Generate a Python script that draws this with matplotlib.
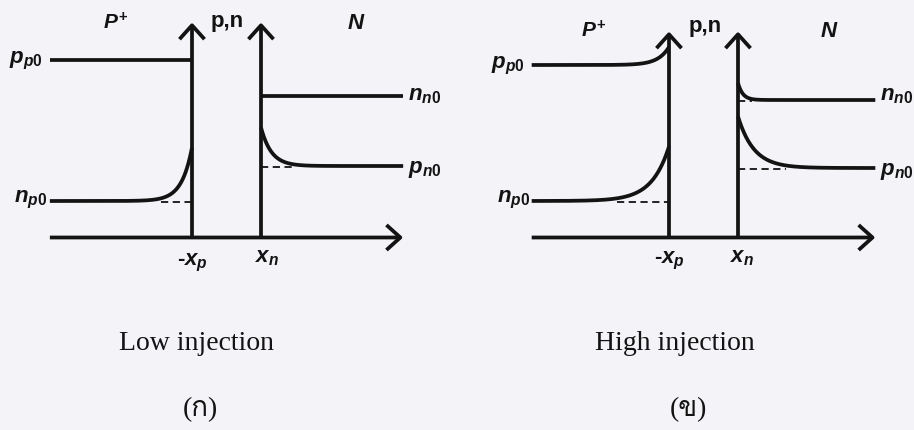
import numpy as np
import matplotlib
matplotlib.use('Agg')
import matplotlib.pyplot as plt
from matplotlib import font_manager
from matplotlib.ft2font import FT2Font
from matplotlib.patches import FancyArrowPatch

# equilibrium densities (arb. units): p_p0, n_p0, n_n0, p_n0
low_levels = [17.75, 3.65, 14.15, 7.15]
high_levels = [17.25, 3.65, 13.75, 6.95]
# densities at the depletion edges: p(-xp), n(-xp), n(xn), p(xn)
low_edges = [17.75, 9.0, 14.15, 11.0]
high_edges = [19.05, 9.1, 15.45, 12.1]
# decay lengths, in units of the depletion width
low_decay = [0.12, 0.15, 0.05, 0.15]
high_decay = [0.16, 0.25, 0.07, 0.23]
# which profiles get the dashed equilibrium reference
low_dashed = [False, True, False, True]
high_dashed = [False, True, True, True]

captions = ['Low injection', 'High injection']
tags = ['(\u0e01)', '(\u0e02)']

INK = '#131313'
BG = '#f3f3f8'
LW = 2.7


def thai_family():
    for f in font_manager.fontManager.ttflist:
        try:
            if 0x0E01 in FT2Font(f.fname).get_charmap():
                return f.name
        except Exception:
            pass
    return 'DejaVu Sans'


plt.rcParams['mathtext.fontset'] = 'custom'
plt.rcParams['mathtext.it'] = 'Liberation Sans:bold:italic'
plt.rcParams['mathtext.rm'] = 'Liberation Sans:bold'
plt.rcParams['mathtext.bf'] = 'Liberation Sans:bold'
serif = ['Liberation Serif', thai_family(), 'DejaVu Sans']


def arrow(ax, a, b):
    ax.add_patch(FancyArrowPatch(a, b, arrowstyle='->,head_length=0.5,head_width=0.45',
                                 mutation_scale=20, lw=LW, color=INK,
                                 shrinkA=0, shrinkB=0, capstyle='butt', joinstyle='round'))


def carrier(ax, lvl, edge, L, x0, x1, side, dashed):
    # carrier profile relaxing back to its equilibrium value
    x = np.linspace(x0, x1, 400)
    if side == 'p':
        y = lvl + (edge - lvl) * np.exp(x / L)
        dash = (-3 * L, 0)
    else:
        y = lvl + (edge - lvl) * np.exp(-(x - 1) / L)
        dash = (1, 1 + 3 * L)
    ax.plot(x, y, color=INK, lw=LW, solid_capstyle='butt')
    if dashed:
        ax.plot(dash, [lvl - 0.1, lvl - 0.1], color=INK, lw=1.3, ls=(0, (4, 2.5)))


def panel(ax, levels, edges, decay, dashed, xs, xe, ytop, lab):
    sides = ['p', 'p', 'n', 'n']
    for i in range(4):
        x0, x1 = (xs, 0) if sides[i] == 'p' else (1, xe)
        carrier(ax, levels[i], edges[i], decay[i], x0, x1, sides[i], dashed[i])

    arrow(ax, (xs, 0), (xe, 0))
    arrow(ax, (0, 0), (0, ytop))
    arrow(ax, (1, 0), (1, ytop))

    kw = dict(color=INK, fontsize=16)
    ax.text(*lab['P'], r'$P^{+}$', ha='center', va='center', color=INK, fontsize=15)
    ax.text(*lab['pn'], 'p,n', ha='center', va='center',
            family='Liberation Sans', weight='bold', **kw)
    ax.text(*lab['N'], r'$N$', ha='center', va='center', **kw)
    ax.text(*lab['pp0'], r'$\mathit{p_{p0}}$', ha='right', va='baseline', **kw)
    ax.text(*lab['np0'], r'$\mathit{n_{p0}}$', ha='right', va='baseline', **kw)
    ax.text(*lab['nn0'], r'$\mathit{n_{n0}}$', ha='left', va='baseline', **kw)
    ax.text(*lab['pn0'], r'$\mathit{p_{n0}}$', ha='left', va='baseline', **kw)
    ax.text(*lab['xp'], '$\\mathit{\u2010x_p}$', ha='center', va='baseline', **kw)
    ax.text(*lab['xn'], r'$\mathit{x_n}$', ha='center', va='baseline', **kw)


fig = plt.figure(figsize=(9.14, 4.30), dpi=100, facecolor=BG)
ax1 = fig.add_axes([0, 0, 0.5, 1])
ax2 = fig.add_axes([0.5, 0, 0.5, 1])
ax1.set_xlim(-192 / 69, 265 / 69)
ax2.set_xlim(-212 / 69, 245 / 69)
for ax in (ax1, ax2):
    ax.set_ylim(-19.25, 23.75)
    ax.axis('off')

panel(ax1, low_levels, low_edges, low_decay, low_dashed, -2.06, 3.06, 21.5,
      dict(P=(-1.10, 21.45), pn=(0.51, 21.6), N=(2.38, 21.45),
           pp0=(-2.17, 17.45), np0=(-2.10, 3.55), nn0=(3.13, 13.75), pn0=(3.13, 6.45),
           xp=(0.0, -2.75), xn=(1.09, -2.45)))
panel(ax2, high_levels, high_edges, high_decay, high_dashed, -1.99, 2.99, 20.6,
      dict(P=(-1.09, 20.65), pn=(0.52, 21.1), N=(2.32, 20.65),
           pp0=(-2.09, 16.95), np0=(-2.01, 3.55), nn0=(3.06, 13.75), pn0=(3.06, 6.25),
           xp=(0.01, -2.55), xn=(1.06, -2.45)))

for ax, cap, tag, cx, tx in ((ax1, captions[0], tags[0], 0.06, 0.12),
                             (ax2, captions[1], tags[1], 0.09, 0.28)):
    ax.text(cx, -10.55, cap, ha='center', va='center', fontsize=20, color=INK, family=serif)
    ax.text(tx, -17.25, tag, ha='center', va='center', fontsize=20, color=INK, family=serif)

fig.savefig('out.png', dpi=100, facecolor=BG)
